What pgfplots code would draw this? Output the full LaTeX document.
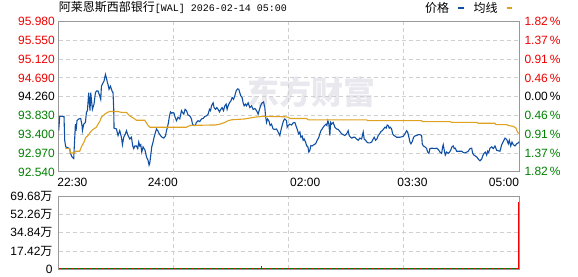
\documentclass[border=0pt]{standalone}
\usepackage{fontspec}
\setmainfont{Liberation Sans}
\newfontfamily\cjk{Noto Sans CJK SC}
\newfontfamily\mono{Liberation Mono}
\usepackage{pgfplots}
\pgfplotsset{compat=1.18}
\definecolor{frame}{RGB}{153,153,153}
\definecolor{gridc}{RGB}{208,208,208}
\definecolor{upred}{RGB}{240,0,0}
\definecolor{dngreen}{RGB}{0,128,0}
\definecolor{priceblue}{RGB}{16,80,164}
\definecolor{avgorange}{RGB}{222,162,32}
\definecolor{wm}{RGB}{232,232,238}
\pgfplotsset{
  panel/.style={
    scale only axis, width=460.6pt, xmin=0, xmax=460.3,
    axis line style={draw=frame, line width=1pt},
    major tick length=0pt,
    grid style={gridc, dash pattern=on 4pt off 3pt, line width=0.9pt},
    tick label style={font=\fontsize{12}{12}\selectfont, inner sep=0pt, text height=8.6pt, text depth=0pt},
  }
}
\begin{document}
\begin{tikzpicture}
\path[use as bounding box] (0pt,0pt) rectangle (578pt,276pt);
\node[text=wm, font=\cjk\bfseries\fontsize{32}{32}\selectfont, anchor=center] at (311pt,184pt) {东方财富};
\node[anchor=base west, inner sep=0pt] at (58.7pt,264pt) {\cjk\fontsize{12}{12}\selectfont 阿莱恩斯西部银行\mono\fontsize{10}{10}\selectfont[WAL] 2026-02-14 05:00};

\begin{axis}[panel,
  at={(58.7pt,104.3pt)}, anchor=south west, height=150pt,
  ymin=92.54, ymax=95.98,
  ytick={92.54,92.97,93.40,93.83,94.26,94.69,95.12,95.55,95.98},
  yticklabels={\textcolor{dngreen}{92.540},\textcolor{dngreen}{92.970},\textcolor{dngreen}{93.400},\textcolor{dngreen}{93.830},94.260,\textcolor{upred}{94.690},\textcolor{upred}{95.120},\textcolor{upred}{95.550},\textcolor{upred}{95.980}},
  yticklabel style={anchor=east, xshift=-3.7pt},
  ymajorgrids,
  xtick={13.7,104,246.4,353.5,445},
  xticklabels={22:30,24:00,02:00,03:30,05:00},
  xticklabel style={anchor=north, yshift=-5.6pt},
  extra x ticks={114.8,230,345}, extra x tick labels={},
  extra x tick style={grid=major},
  legend columns=2, legend plot pos=right,
  legend image code/.code={\draw[#1, line width=2pt] (0pt,0pt) -- (5.5pt,0pt);},
  legend style={draw=none, fill=none, at={(0.987,1.088)}, anchor=east, inner sep=0pt,
    font=\cjk\fontsize{12}{12}\selectfont, nodes={inner sep=0pt},
    /tikz/every odd column/.append style={column sep=8pt},
    /tikz/every even column/.append style={column sep=9pt}},
]
\addplot[priceblue, line width=1.1pt] coordinates {
(0,93.48) (1,93.81) (5.3,93.81) (6,93.26) (7,93.11) (11,93.07) (11.7,92.96) (13.3,92.88) (15,92.84) (16.7,93.63) (17.3,93.48) (18.3,93.71) (20,93.75) (22,93.76) (23.3,93.60) (23.7,93.48) (25,93.63) (26.7,93.67) (27.7,93.90) (28.7,93.94) (30,94.35) (30.7,94.12) (31.3,93.94) (32,94.35) (33.7,93.97) (35.3,94.09) (36.7,94.35) (37.7,94.39) (39.3,94.39) (41,94.28) (42,94.20) (42.7,94.50) (44.3,94.58) (45.3,94.62) (46.7,94.77) (47.7,94.69) (48.7,94.58) (49.3,94.54) (50.3,94.43) (51.7,94.50) (53.3,94.39) (54.3,94.35) (55,93.97) (55.3,93.54) (57.7,93.52) (59.3,93.37) (61,93.48) (62.7,93.33) (63.7,93.16) (65,93.33) (66.7,93.41) (67.7,93.48) (69.3,93.37) (71,93.29) (72.7,93.33) (74,93.13) (75,93.07) (76,93.13) (77.7,93.13) (79,93.07) (80,93.22) (81,93.13) (82,93.16) (83,92.99) (84.3,93.11) (85.3,93.07) (86.3,93.03) (87.7,92.88) (89.3,92.80) (90.3,92.69) (91,92.73) (92,92.92) (93,93.11) (94.3,93.22) (95.3,93.33) (96.3,93.41) (97.7,93.52) (99,93.48) (100,93.43) (101.7,93.37) (103.3,93.33) (105,93.31) (106.7,93.36) (107.7,93.48) (108.7,93.56) (109.7,93.67) (110.7,93.82) (111.7,93.91) (113,93.88) (114.3,93.90) (115.3,93.88) (116.3,93.79) (117.7,93.71) (119.3,93.79) (121,93.75) (122.7,93.94) (123.7,93.90) (125,93.86) (126.3,93.97) (127.7,93.94) (129.3,93.84) (131,93.82) (132.7,93.75) (133.7,93.63) (135,93.60) (136.3,93.60) (137.7,93.67) (139.3,93.71) (141,93.69) (142.7,93.75) (144.3,93.76) (146,93.81) (147.7,93.82) (149.3,93.86) (150.7,93.97) (151.7,93.94) (152.7,94.05) (154.3,94.12) (155.3,94.01) (156.7,93.97) (158,94.01) (159.3,93.97) (160.7,93.91) (162,93.97) (163.3,94.01) (164.7,93.94) (166,94.05) (167.3,94.09) (168.3,93.97) (169.3,94.05) (170.7,94.12) (172,94.16) (173.3,94.24) (174.7,94.20) (176,94.28) (177.3,94.39) (178.7,94.44) (180,94.43) (181,94.35) (182,94.28) (183.3,94.24) (184.3,94.12) (185.3,94.05) (186.7,94.09) (187.7,94.05) (189.3,94.12) (191,94.01) (192.7,94.05) (194.3,93.97) (196,93.99) (197.7,93.94) (199.3,93.86) (200.3,93.94) (201.7,94.05) (203.3,94.12) (204.7,94.14) (206,94.01) (206.7,93.82) (207.7,93.67) (208.7,93.75) (210,93.71) (211.3,93.60) (212.7,93.63) (214.3,93.52) (216,93.51) (217.7,93.52) (219.3,93.45) (221,93.37) (222,93.48) (223.3,93.60) (224.7,93.71) (226,93.75) (227.7,93.71) (228.3,93.56) (229.3,93.60) (231,93.63) (232.7,93.61) (234.3,93.66) (236,93.67) (237,93.60) (238.3,93.52) (239.7,93.41) (241,93.45) (242,93.33) (243.3,93.36) (244.3,93.26) (245.3,93.29) (246.7,93.22) (247.7,93.14) (249,93.11) (250,92.99) (251,93.03) (252,93.14) (253.3,93.13) (255,93.16) (256.7,93.18) (258.3,93.26) (260,93.33) (261,93.41) (262,93.48) (263.3,93.52) (264.3,93.56) (265.7,93.60) (267,93.63) (268,93.60) (269,93.71) (270,93.63) (271,93.37) (271.7,93.67) (272.7,93.63) (274.3,93.67) (276,93.56) (277.7,93.52) (279.3,93.51) (281,93.46) (282.7,93.41) (284.3,93.39) (286,93.37) (287.7,93.41) (289.3,93.48) (290.3,93.37) (291.7,93.33) (293,93.31) (294.3,93.33) (296,93.33) (297.7,93.29) (299.3,93.26) (301,93.31) (302.7,93.29) (304.3,93.45) (305.3,93.29) (306.7,93.26) (308,93.22) (309.3,93.20) (311,93.20) (312.7,93.22) (314.3,93.29) (315.3,93.33) (316.7,93.26) (318,93.29) (319.3,93.37) (320.7,93.41) (322,93.46) (323.3,93.48) (324.7,93.52) (326,93.56) (327.3,93.54) (328.3,93.61) (329.3,93.60) (330.3,93.54) (331.3,93.56) (332.7,93.52) (333.7,93.41) (335,93.37) (336,93.36) (337.7,93.33) (341,93.33) (344.3,93.35) (346,93.41) (347.7,93.48) (348.7,93.45) (350,93.33) (351,93.22) (352,93.18) (353.3,93.23) (354.7,93.33) (356,93.36) (357.7,93.37) (359.3,93.39) (361,93.39) (362.7,93.37) (363.3,93.18) (364.3,93.13) (366,93.11) (367.7,93.07) (368.7,92.99) (370,92.96) (371,93.07) (372.7,93.08) (376,93.07) (377.7,93.08) (379.3,93.05) (381,92.99) (382.7,92.96) (383.7,93.11) (384.3,93.16) (385.3,93.03) (386.3,92.92) (387.7,92.99) (389.3,92.96) (390.3,92.98) (391.7,93.03) (393,93.11) (394.3,93.13) (395.3,93.07) (396.3,93.08) (397.7,93.01) (402.7,93.01) (404.3,92.98) (406,92.97) (407.7,92.99) (409.3,93.01) (411,93.07) (412.7,93.08) (413.7,92.96) (415,92.92) (416.3,92.90) (417.7,92.88) (419.3,92.83) (421,92.79) (422.7,92.83) (423.7,92.90) (425,92.96) (426.3,92.99) (427.7,92.92) (428.7,93.01) (429.7,92.98) (431,93.08) (432.7,93.11) (434.3,93.07) (436,93.13) (437.7,93.03) (441,93.01) (442.7,93.16) (444.3,93.23) (446,93.31) (447.7,93.28) (449.3,93.18) (450.3,93.26) (451.7,93.13) (453,93.22) (454.3,93.16) (456,93.13) (457.7,93.18) (459.3,93.20) (460.3,93.23)
};
\addplot[avgorange, line width=1.1pt] coordinates {
(6.7,93.07) (11,93.07) (11.7,92.97) (16,92.97) (16.7,93.01) (21,93.01) (22.7,93.11) (25.3,93.22) (27,93.32) (29.3,93.37) (32,93.46) (34.3,93.51) (37.7,93.56) (39.3,93.63) (41,93.69) (42.7,93.79) (46,93.86) (48.7,93.90) (51,93.92) (59.3,93.92) (62.7,93.90) (67.7,93.90) (71,93.82) (76,93.75) (77.7,93.72) (86,93.72) (89.3,93.60) (91,93.56) (127.7,93.56) (131,93.60) (151,93.61) (156,93.61) (161,93.63) (166,93.67) (169.3,93.71) (172.7,93.73) (186,93.75) (196,93.79) (204.3,93.81) (226,93.80) (229.3,93.79) (231,93.76) (247.7,93.76) (249.3,93.73) (307.7,93.73) (308.7,93.71) (362.7,93.71) (363.3,93.69) (391,93.69) (392.7,93.67) (417.7,93.67) (419.3,93.65) (436,93.65) (437,93.62) (447.7,93.62) (449.3,93.60) (454.3,93.58) (457,93.54) (458.3,93.46) (459.7,93.41)
};
\legend{价格,均线}
\end{axis}

\begin{axis}[panel,
  at={(58.7pt,104.3pt)}, anchor=south west, height=150pt,
  ymin=-1.82, ymax=1.82, hide x axis, axis y line*=right, axis line style={draw=none},
  ytick={-1.82,-1.37,-0.91,-0.46,0,0.46,0.91,1.37,1.82},
  yticklabels={\textcolor{dngreen}{1.82\,\%},\textcolor{dngreen}{1.37\,\%},\textcolor{dngreen}{0.91\,\%},\textcolor{dngreen}{0.46\,\%},0.00\,\%,\textcolor{upred}{0.46\,\%},\textcolor{upred}{0.91\,\%},\textcolor{upred}{1.37\,\%},\textcolor{upred}{1.82\,\%}},
  yticklabel style={anchor=west, xshift=5pt},
]
\addplot[draw=none, forget plot] coordinates {(0,0)};
\end{axis}

\begin{axis}[panel,
  at={(58.7pt,6.7pt)}, anchor=south west, height=73.3pt,
  ymin=0, ymax=69.68,
  ytick={0,17.42,34.84,52.26,69.68},
  yticklabels={0,17.42{\cjk 万},34.84{\cjk 万},52.26{\cjk 万},69.68{\cjk 万}},
  yticklabel style={anchor=east, xshift=-6pt},
  ymajorgrids, xmajorgrids,
  xtick={114.8,230,345}, xticklabels={},
]
\addplot[ycomb, upred, line width=3pt] coordinates {
(1.5,1.1) (7.5,1.1) (13.5,1.1) (19.5,1.1) (25.5,1.1) (31.5,1.1) (37.5,1.1) (43.5,1.1) (49.5,1.1) (55.5,1.1) (61.5,1.1) (67.5,1.1) (73.5,1.1) (79.5,1.1) (85.5,1.1) (91.5,1.1) (97.5,1.1) (103.5,1.1) (109.5,1.1) (115.5,1.1) (121.5,1.1) (127.5,1.1) (133.5,1.1) (139.5,1.1) (145.5,1.1) (151.5,1.1) (157.5,1.1) (163.5,1.1) (169.5,1.1) (175.5,1.1) (181.5,1.1) (187.5,1.1) (193.5,1.1) (199.5,1.1) (205.5,1.1) (211.5,1.1) (217.5,1.1) (223.5,1.1) (229.5,1.1) (235.5,1.1) (241.5,1.1) (247.5,1.1) (253.5,1.1) (259.5,1.1) (265.5,1.1) (271.5,1.1) (277.5,1.1) (283.5,1.1) (289.5,1.1) (295.5,1.1) (301.5,1.1) (307.5,1.1) (313.5,1.1) (319.5,1.1) (325.5,1.1) (331.5,1.1) (337.5,1.1) (343.5,1.1) (349.5,1.1) (355.5,1.1) (361.5,1.1) (367.5,1.1) (373.5,1.1) (379.5,1.1) (385.5,1.1) (391.5,1.1) (397.5,1.1) (403.5,1.1) (409.5,1.1) (415.5,1.1) (421.5,1.1) (427.5,1.1) (433.5,1.1) (439.5,1.1) (445.5,1.1) (451.5,1.1) (457.5,1.1)
};
\addplot[ycomb, dngreen, line width=3pt] coordinates {
(4.5,1.1) (10.5,1.1) (16.5,1.1) (22.5,1.1) (28.5,1.1) (34.5,1.1) (40.5,1.1) (46.5,1.1) (52.5,1.1) (58.5,1.1) (64.5,1.1) (70.5,1.1) (76.5,1.1) (82.5,1.1) (88.5,1.1) (94.5,1.1) (100.5,1.1) (106.5,1.1) (112.5,1.1) (118.5,1.1) (124.5,1.1) (130.5,1.1) (136.5,1.1) (142.5,1.1) (148.5,1.1) (154.5,1.1) (160.5,1.1) (166.5,1.1) (172.5,1.1) (178.5,1.1) (184.5,1.1) (190.5,1.1) (196.5,1.1) (202.5,1.1) (208.5,1.1) (214.5,1.1) (220.5,1.1) (226.5,1.1) (232.5,1.1) (238.5,1.1) (244.5,1.1) (250.5,1.1) (256.5,1.1) (262.5,1.1) (268.5,1.1) (274.5,1.1) (280.5,1.1) (286.5,1.1) (292.5,1.1) (298.5,1.1) (304.5,1.1) (310.5,1.1) (316.5,1.1) (322.5,1.1) (328.5,1.1) (334.5,1.1) (340.5,1.1) (346.5,1.1) (352.5,1.1) (358.5,1.1) (364.5,1.1) (370.5,1.1) (376.5,1.1) (382.5,1.1) (388.5,1.1) (394.5,1.1) (400.5,1.1) (406.5,1.1) (412.5,1.1) (418.5,1.1) (424.5,1.1) (430.5,1.1) (436.5,1.1) (442.5,1.1) (448.5,1.1) (454.5,1.1)
};
\addplot[ycomb, upred, line width=1.2pt] coordinates {(202.7,2.8)};
\addplot[ycomb, dngreen, line width=1.2pt] coordinates {(238,1.6)};
\addplot[ycomb, upred, line width=1.7pt] coordinates {(459.6,64.3)};
\end{axis}
\end{tikzpicture}
\end{document}
